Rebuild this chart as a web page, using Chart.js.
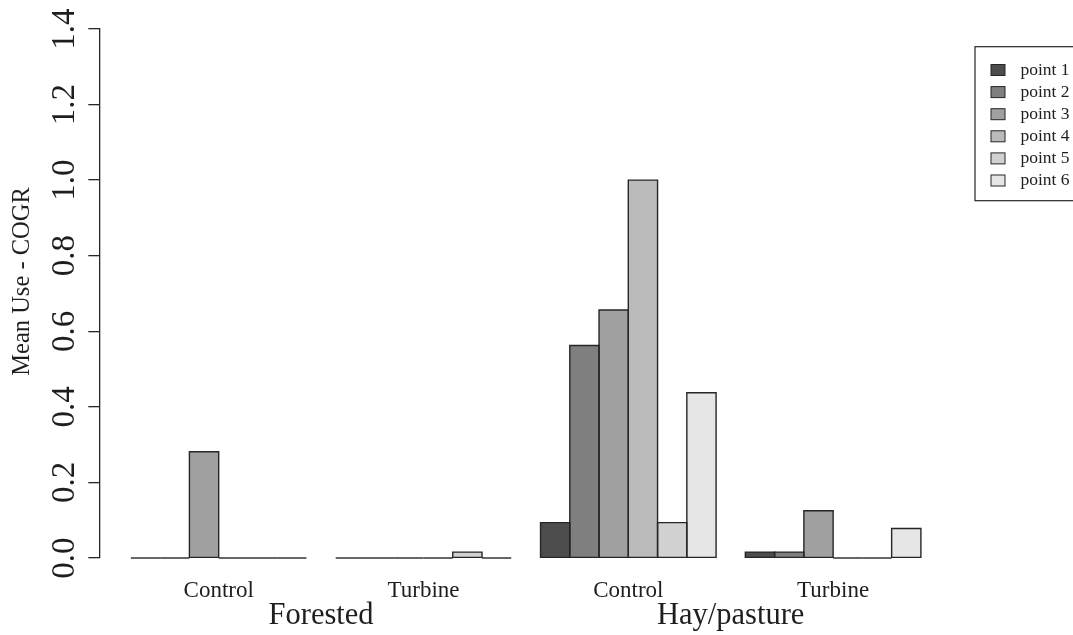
<!DOCTYPE html>
<html>
<head>
<meta charset="utf-8">
<script src="https://cdn.jsdelivr.net/npm/chart.js@4/dist/chart.umd.min.js"></script>
<style>
  html, body { margin: 0; padding: 0; background: #ffffff; }
  canvas { display: block; }
</style>
</head>
<body>
<canvas id="chart" width="1073" height="635"></canvas>
<script>
// Treatment labels under each bar group, habitat labels under each pair of groups
const treatments = ['Control', 'Turbine', 'Control', 'Turbine'];
const habitats = ['Forested', 'Hay/pasture'];

// Mean use per survey point, one value per treatment group
const seriesNames = ['point 1', 'point 2', 'point 3', 'point 4', 'point 5', 'point 6'];
const point1 = [0, 0, 0.09375, 0.015625];
const point2 = [0, 0, 0.5625, 0.015625];
const point3 = [0.28125, 0, 0.65625, 0.125];
const point4 = [0, 0, 1.0, 0];
const point5 = [0, 0.015625, 0.09375, 0];
const point6 = [0, 0, 0.4375, 0.078125];
const seriesValues = [point1, point2, point3, point4, point5, point6];

// Y axis ticks
const yTicks = [0.0, 0.2, 0.4, 0.6, 0.8, 1.0, 1.2, 1.4];
const yTitle = 'Mean Use - COGR';

// Grey ramp for the six points
const seriesColors = ['#4D4D4D', '#7F7F7F', '#A0A0A0', '#BBBBBB', '#D1D1D1', '#E6E6E6'];

// Bar layout in bar-width units: one empty bar between groups
const BARS = seriesNames.length;
const SPACE = 1;
const groupCenter = i => SPACE + i * (BARS + SPACE) + BARS / 2;
const firstLeft = SPACE;
const lastRight = SPACE + treatments.length * (BARS + SPACE) - SPACE;
const pad = 0.04 * (lastRight - firstLeft);
const xMin = firstLeft - pad;
const xMax = lastRight + pad;
const groupCenters = treatments.map((_, i) => groupCenter(i));
const habitatCenters = habitats.map((_, h) => (groupCenter(2 * h) + groupCenter(2 * h + 1)) / 2);

const SERIF = '"Liberation Serif", "Times New Roman", serif';
const INK = '#1e1e1e';

const rStyle = {
  id: 'rStyle',
  afterDatasetsDraw(chart) {
    const ctx = chart.ctx;
    ctx.save();
    ctx.strokeStyle = '#262626';
    ctx.lineWidth = 1.4;
    chart.data.datasets.forEach((ds, di) => {
      chart.getDatasetMeta(di).data.forEach(bar => {
        const { x, y, base, width } = bar.getProps(['x', 'y', 'base', 'width'], true);
        const l = x - width / 2;
        ctx.beginPath();
        if (Math.abs(base - y) < 0.5) {
          ctx.moveTo(l, base);
          ctx.lineTo(l + width, base);
        } else {
          ctx.rect(l, Math.min(y, base), width, Math.abs(base - y));
        }
        ctx.stroke();
      });
    });
    ctx.restore();
  },
  afterDraw(chart) {
    const ctx = chart.ctx;
    const yScale = chart.scales.y;
    const area = chart.chartArea;
    ctx.save();
    ctx.fillStyle = INK;

    // rotated tick labels on the value axis
    ctx.font = '33px ' + SERIF;
    ctx.textAlign = 'center';
    ctx.textBaseline = 'alphabetic';
    yTicks.forEach(v => {
      const py = yScale.getPixelForValue(v);
      ctx.save();
      ctx.translate(74, py);
      ctx.rotate(-Math.PI / 2);
      ctx.fillText(v.toFixed(1), 0, 0);
      ctx.restore();
    });

    // axis title
    ctx.font = '24.5px ' + SERIF;
    ctx.textBaseline = 'middle';
    ctx.save();
    ctx.translate(23, (area.top + area.bottom) / 2 - 12);
    ctx.rotate(-Math.PI / 2);
    ctx.fillText(yTitle, 0, 0);
    ctx.restore();

    // legend box
    const boxL = 975, boxT = 46.7, boxB = 200.7;
    ctx.strokeStyle = '#262626';
    ctx.lineWidth = 1.2;
    ctx.strokeRect(boxL, boxT, 140, boxB - boxT);
    ctx.font = '17.5px ' + SERIF;
    ctx.textAlign = 'left';
    ctx.textBaseline = 'middle';
    chart.data.datasets.forEach((ds, i) => {
      const cy = 70 + i * 22.1;
      ctx.fillStyle = ds.backgroundColor;
      ctx.fillRect(991, cy - 5.5, 14, 11);
      ctx.lineWidth = 1;
      ctx.strokeRect(991, cy - 5.5, 14, 11);
      ctx.fillStyle = INK;
      ctx.fillText(ds.label, 1020.5, cy);
    });
    ctx.restore();
  }
};

new Chart(document.getElementById('chart'), {
  type: 'bar',
  data: {
    datasets: seriesNames.map((name, s) => ({
      label: name,
      data: treatments.map((_, i) => ({ x: groupCenters[i], y: seriesValues[s][i] })),
      backgroundColor: seriesColors[s],
      borderWidth: 0,
      xAxisID: 'x',
      yAxisID: 'y'
    }))
  },
  options: {
    responsive: false,
    animation: false,
    events: [],
    categoryPercentage: BARS / (BARS + SPACE),
    barPercentage: 1,
    layout: { padding: { top: 29, right: 120.5, bottom: 0, left: 0 } },
    plugins: { legend: { display: false }, tooltip: { enabled: false } },
    scales: {
      x: {
        type: 'linear',
        position: 'bottom',
        weight: 0,
        min: xMin,
        max: xMax,
        offset: false,
        grid: { display: false, drawTicks: false, tickLength: 0 },
        border: { display: false },
        afterBuildTicks: scale => { scale.ticks = groupCenters.map(v => ({ value: v })); },
        afterFit: scale => { scale.height = 42; },
        ticks: {
          autoSkip: false,
          maxRotation: 0,
          minRotation: 0,
          padding: 18.7,
          color: INK,
          font: { family: SERIF, size: 23 },
          callback: (value, index) => treatments[index]
        }
      },
      x2: {
        type: 'linear',
        position: 'bottom',
        weight: 1,
        min: xMin,
        max: xMax,
        offset: false,
        grid: { display: false, drawTicks: false, tickLength: 0 },
        border: { display: false },
        afterBuildTicks: scale => { scale.ticks = habitatCenters.map(v => ({ value: v })); },
        afterFit: scale => { scale.height = 35; },
        ticks: {
          autoSkip: false,
          maxRotation: 0,
          minRotation: 0,
          padding: 3.3,
          color: INK,
          font: { family: SERIF, size: 30.5, lineHeight: 0.8 },
          callback: (value, index) => habitats[index]
        }
      },
      y: {
        type: 'linear',
        position: 'left',
        min: yTicks[0],
        max: yTicks[yTicks.length - 1],
        afterBuildTicks: scale => { scale.ticks = yTicks.map(v => ({ value: v })); },
        afterFit: scale => { scale.width = 99.3; },
        grid: { display: true, drawOnChartArea: false, drawTicks: true, tickLength: 11, color: '#262626', lineWidth: 1.3 },
        border: { display: true, color: '#262626', width: 1.3 },
        ticks: { display: false }
      }
    }
  },
  plugins: [rStyle]
});
</script>
</body>
</html>
